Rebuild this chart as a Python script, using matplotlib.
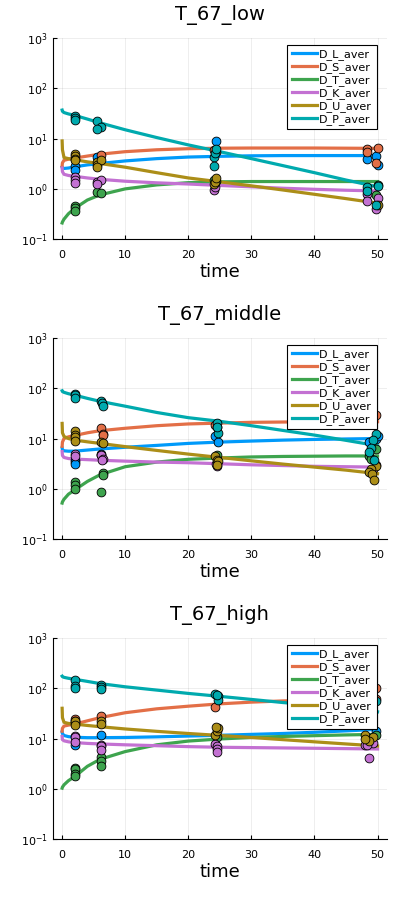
import numpy as np
import matplotlib
matplotlib.use("Agg")
import matplotlib.pyplot as plt
from matplotlib.ticker import LogLocator, NullLocator

names = ["D_L_aver", "D_S_aver", "D_T_aver", "D_K_aver", "D_U_aver", "D_P_aver"]
colors = ["#009AFA", "#E36F47", "#3EA44E", "#C371D2", "#AC8E18", "#00AAAE"]
titles = ["T_67_low", "T_67_middle", "T_67_high"]

# model curves, sampled on a common time grid
t_line = [0, 0.05, 0.3, 1, 2, 4, 6, 10, 15, 20, 25, 30, 35, 40, 45, 50]

low_line = {
    "D_L_aver": [2.7, 2.6, 2.55, 2.6, 2.75, 3.0, 3.2, 3.6, 4.0, 4.3, 4.45, 4.55, 4.6, 4.6, 4.6, 4.6],
    "D_S_aver": [2.9, 3.3, 3.7, 3.9, 4.1, 4.5, 4.9, 5.5, 6.0, 6.3, 6.45, 6.5, 6.5, 6.5, 6.45, 6.4],
    "D_T_aver": [0.21, 0.22, 0.25, 0.32, 0.41, 0.6, 0.76, 1.0, 1.2, 1.33, 1.38, 1.4, 1.4, 1.4, 1.4, 1.4],
    "D_K_aver": [2.6, 2.2, 1.95, 1.85, 1.78, 1.65, 1.55, 1.42, 1.32, 1.25, 1.17, 1.1, 1.03, 0.98, 0.94, 0.91],
    "D_U_aver": [9.0, 6.0, 4.2, 4.0, 3.8, 3.45, 3.2, 2.7, 2.1, 1.65, 1.38, 1.15, 0.95, 0.78, 0.64, 0.52],
    "D_P_aver": [37, 35, 33, 31, 29, 24.5, 20.6, 15, 10.5, 7.5, 5.5, 4.0, 2.9, 2.1, 1.5, 1.1],
}
mid_line = {
    "D_L_aver": [6.5, 6.0, 5.7, 5.6, 5.6, 5.9, 6.2, 6.7, 7.3, 8.0, 8.5, 8.9, 9.3, 9.6, 9.8, 10.0],
    "D_S_aver": [7.0, 8.5, 10.0, 10.8, 11.5, 13.0, 14.3, 16.0, 18.0, 19.5, 20.3, 21.0, 21.3, 21.5, 21.6, 21.6],
    "D_T_aver": [0.52, 0.55, 0.62, 0.78, 0.95, 1.4, 1.9, 2.75, 3.4, 3.86, 4.1, 4.3, 4.4, 4.45, 4.5, 4.5],
    "D_K_aver": [5.5, 4.6, 4.2, 4.0, 3.9, 3.8, 3.7, 3.55, 3.4, 3.3, 3.15, 3.0, 2.9, 2.8, 2.75, 2.7],
    "D_U_aver": [20, 13, 11, 10, 9.3, 8.6, 8.0, 6.9, 5.8, 4.9, 4.2, 3.6, 3.1, 2.7, 2.35, 2.0],
    "D_P_aver": [89, 86, 83, 78, 73, 63, 55, 44, 33, 26, 22, 18, 14.5, 11.7, 9.2, 7.2],
}
high_line = {
    "D_L_aver": [13.5, 12.5, 11.5, 10.9, 10.6, 10.4, 10.4, 10.5, 10.8, 11.2, 11.6, 12.1, 12.6, 13.3, 14.2, 15.2],
    "D_S_aver": [14, 16, 17.7, 18.5, 19.4, 22.5, 26, 32.6, 39, 44, 49, 53, 56, 58, 60, 61],
    "D_T_aver": [1.03, 1.08, 1.2, 1.45, 1.75, 2.8, 3.86, 5.5, 7.5, 8.9, 9.8, 10.5, 11.0, 11.4, 11.8, 12.1],
    "D_K_aver": [11, 9.5, 9.0, 8.6, 8.3, 8.0, 7.8, 7.5, 7.2, 6.9, 6.7, 6.6, 6.5, 6.4, 6.3, 6.2],
    "D_U_aver": [40, 26, 21, 20, 19.4, 18.2, 17.2, 15.5, 13.9, 12.6, 11.5, 10.5, 9.5, 8.6, 7.8, 7.1],
    "D_P_aver": [174, 170, 165, 158, 151, 137, 124, 107, 92, 79, 69, 60, 52, 46, 40, 34],
}

# measured points: (times, values) per series
low_obs = {
    "D_L_aver": ([2, 2, 5.5, 24.4, 48.3, 49.7, 50.1], [2.8, 2.4, 4.3, 9.0, 4.0, 4.6, 3.0]),
    "D_S_aver": ([6.1, 24.0, 24.4, 48.3, 48.3, 49.7, 50.1], [4.8, 6.0, 5.3, 6.2, 5.5, 3.2, 6.6]),
    "D_T_aver": ([2, 2, 2, 5.5, 6.1, 24.0, 24.4, 49.7, 50.1], [0.46, 0.42, 0.37, 0.85, 0.82, 1.5, 1.45, 0.75, 1.2]),
    "D_K_aver": ([2, 2, 2, 5.5, 6.1, 5.6, 24.0, 24.2, 48.3, 48.3, 49.7, 50.1],
                 [1.7, 1.5, 1.3, 1.4, 1.5, 1.25, 0.95, 1.1, 0.8, 0.58, 0.4, 0.65]),
    "D_U_aver": ([2, 2, 2, 2, 5.5, 5.6, 6.1, 5.5, 24.0, 24.2, 24.4, 50.1],
                 [5.0, 4.5, 4.0, 3.7, 3.4, 3.0, 3.8, 2.7, 1.25, 1.4, 1.65, 0.48]),
    "D_P_aver": ([2, 2, 2, 5.5, 6.1, 5.5, 24.0, 24.2, 24.4, 24.0, 48.3, 48.3, 49.7, 50.1],
                 [28, 26, 24, 22, 17, 15.5, 4.3, 5.2, 6.3, 2.8, 1.1, 0.9, 0.48, 1.15]),
}
mid_obs = {
    "D_L_aver": ([2, 2, 2, 6.1, 24.3, 24.7, 48.6, 49.7, 50.0], [3.8, 3.4, 3.1, 5.0, 11, 8.5, 8.5, 10, 11]),
    "D_S_aver": ([6.1, 6.5, 6.4, 24.3, 24.5, 49.7], [16, 12.5, 11.5, 19, 17, 29]),
    "D_T_aver": ([2, 2, 2, 6.1, 6.5, 6.5, 6.1, 24.5, 48.6, 48.9, 49.7],
                 [1.35, 1.2, 1.0, 4.8, 2.1, 1.9, 0.85, 4.8, 4.5, 4.0, 6.3]),
    "D_K_aver": ([2, 2, 6.1, 6.5, 6.3, 24.5, 24.4, 49.7, 49.2], [5.0, 4.5, 4.6, 4.0, 3.7, 2.9, 3.1, 3.0, 2.5]),
    "D_U_aver": ([2, 2, 2, 2, 6.1, 6.5, 24.3, 24.5, 24.7, 24.6, 49.7, 49.0, 48.6, 49.1, 49.4],
                 [14, 12, 10.5, 9, 8.5, 8.3, 4.4, 3.8, 3.5, 3.0, 2.8, 2.5, 2.2, 2.0, 1.5]),
    "D_P_aver": ([2, 2, 2, 6.1, 6.3, 6.5, 24.6, 24.7, 24.6, 49.7, 49.2, 49.0, 48.6, 49.5],
                 [78, 72, 65, 55, 50, 45, 20.5, 13, 17, 12.5, 9.5, 6.5, 5.5, 3.8]),
}
high_obs = {
    "D_L_aver": ([2, 6.1, 49.7], [7.5, 12, 14]),
    "D_S_aver": ([2, 2, 2, 6.1, 24.3, 49.7, 49.7], [24, 22, 20, 28, 42, 100, 60]),
    "D_T_aver": ([2, 2, 2, 2, 6.1, 6.1, 6.1, 24.6, 49.7], [2.6, 2.5, 2.0, 1.8, 4.2, 3.6, 2.8, 10.5, 11.5]),
    "D_K_aver": ([2, 2, 2, 6.1, 6.1, 6.1, 24.3, 24.5, 24.6, 24.6, 48.0, 48.6, 49.3, 48.4],
                 [11, 10.5, 8.5, 7.5, 7.0, 6.0, 7.8, 7.0, 6.2, 5.3, 7.3, 4.1, 8.2, 7.5]),
    "D_U_aver": ([2, 2, 6.1, 6.1, 24.3, 24.6, 24.7, 24.4, 48.0, 49.3, 48.6, 48.0],
                 [22, 19, 22, 19.5, 12, 14, 16, 17, 12, 10.5, 9, 10]),
    "D_P_aver": ([2, 2, 2, 6.1, 6.1, 6.1, 24.3, 24.7, 24.7, 24.5, 49.7],
                 [145, 110, 100, 115, 105, 95, 78, 70, 58, 72, 55]),
}

panels = [(low_line, low_obs), (mid_line, mid_obs), (high_line, high_obs)]

plt.rcParams['font.family'] = ['DejaVu Sans']
fig = plt.figure(figsize=(3.99, 8.99), dpi=100)

ax_left, ax_w, ax_h = 0.132, 0.838, 0.2236
bottoms = [0.734, 0.4004, 0.0667]

for k, (lines, obs) in enumerate(panels):
    ax = fig.add_axes([ax_left, bottoms[k], ax_w, ax_h])
    for name, c in zip(names, colors):
        ax.plot(t_line, lines[name], color=c, lw=2.3, label=name, zorder=2)
    for name, c in zip(names, colors):
        tt, vv = obs[name]
        ax.scatter(tt, vv, s=40, color=c, edgecolors='black', linewidths=0.6, zorder=3)
    ax.set_yscale('log')
    ax.set_ylim(0.1, 1000)
    ax.set_xlim(-1.5, 51.5)
    ax.set_xticks([0, 10, 20, 30, 40, 50])
    ax.yaxis.set_major_locator(LogLocator(base=10, numticks=10))
    ax.yaxis.set_minor_locator(NullLocator())
    ax.grid(True, color='black', alpha=0.08, lw=0.6)
    ax.spines['top'].set_visible(False)
    ax.spines['right'].set_visible(False)
    ax.tick_params(direction='in', length=3, labelsize=8, colors='black')
    ax.tick_params(axis='x', pad=8)
    ax.set_title(titles[k], fontsize=14, pad=13)
    ax.set_xlabel('time', fontsize=13, labelpad=2)
    leg = ax.legend(loc='upper right', bbox_to_anchor=(0.969, 0.967), borderaxespad=0,
                    fontsize=8, handlelength=2.3, handletextpad=0.2, labelspacing=0.18,
                    borderpad=0.4, fancybox=False, framealpha=1)
    leg.get_frame().set_edgecolor('black')
    leg.get_frame().set_linewidth(0.8)
    leg.set_zorder(10)

fig.savefig('out.png', dpi=100)
